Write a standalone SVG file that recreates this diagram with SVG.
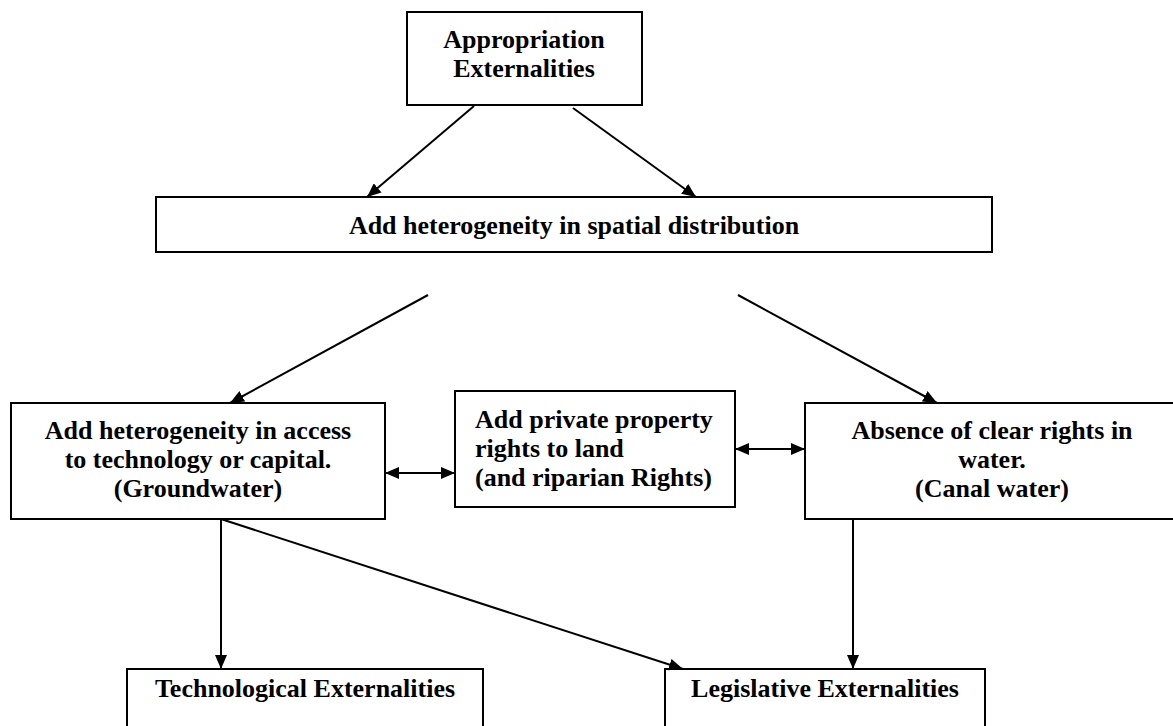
<svg xmlns="http://www.w3.org/2000/svg" width="1173" height="726" viewBox="0 0 1173 726">
<defs>
<style>
.box{fill:#fff;stroke:#000;stroke-width:2}
.t{font-family:"Liberation Serif","Times New Roman",serif;font-weight:bold;font-size:26px;fill:#000}
.c{text-anchor:middle}
.ln{stroke:#000;stroke-width:2;fill:none}
</style>
<marker id="ah" viewBox="0 0 14 12" refX="14" refY="6" markerWidth="14" markerHeight="12" markerUnits="userSpaceOnUse" orient="auto-start-reverse">
<path d="M0,0 L14,6 L0,12 Z" fill="#000"/>
</marker>
</defs>
<rect width="1173" height="726" fill="#fff"/>
<g id="n-appropriation">
<rect class="box" x="407" y="12" width="235" height="93"/>
<text class="t c" x="524" y="48">Appropriation</text>
<text class="t c" x="524" y="77">Externalities</text>
</g>
<g id="n-spatial">
<rect class="box" x="156" y="197" width="836" height="55"/>
<text class="t c" x="574" y="234">Add heterogeneity in spatial distribution</text>
</g>
<g id="n-access">
<rect class="box" x="11" y="403" width="374" height="116"/>
<text class="t c" x="198" y="439">Add heterogeneity in access</text>
<text class="t c" x="198" y="468">to technology or capital.</text>
<text class="t c" x="198" y="497">(Groundwater)</text>
</g>
<g id="n-property">
<rect class="box" x="455" y="391" width="280" height="116"/>
<text class="t" x="475" y="428">Add private property</text>
<text class="t" x="475" y="457">rights to land</text>
<text class="t" x="475" y="486">(and riparian Rights)</text>
</g>
<g id="n-absence">
<rect class="box" x="805" y="403" width="375" height="116"/>
<text class="t c" x="992" y="439">Absence of clear rights in</text>
<text class="t c" x="992" y="468">water.</text>
<text class="t c" x="992" y="497">(Canal water)</text>
</g>
<g id="n-tech">
<rect class="box" x="127" y="669" width="356" height="70"/>
<text class="t c" x="305" y="697">Technological Externalities</text>
</g>
<g id="n-legis">
<rect class="box" x="665" y="669" width="320" height="70"/>
<text class="t c" x="825" y="697">Legislative Externalities</text>
</g>
<g id="connectors">
<line class="ln" x1="474" y1="106" x2="367" y2="197" marker-end="url(#ah)"/>
<line class="ln" x1="573" y1="108" x2="696" y2="197" marker-end="url(#ah)"/>
<line class="ln" x1="428" y1="295" x2="230" y2="403" marker-end="url(#ah)"/>
<line class="ln" x1="738" y1="295" x2="937" y2="403" marker-end="url(#ah)"/>
<line class="ln" x1="385" y1="473" x2="455" y2="473" marker-start="url(#ah)" marker-end="url(#ah)"/>
<line class="ln" x1="735" y1="449" x2="805" y2="449" marker-start="url(#ah)" marker-end="url(#ah)"/>
<line class="ln" x1="221" y1="519" x2="221" y2="669" marker-end="url(#ah)"/>
<line class="ln" x1="221" y1="519" x2="683" y2="669" marker-end="url(#ah)"/>
<line class="ln" x1="853" y1="519" x2="853" y2="669" marker-end="url(#ah)"/>
</g>
</svg>
